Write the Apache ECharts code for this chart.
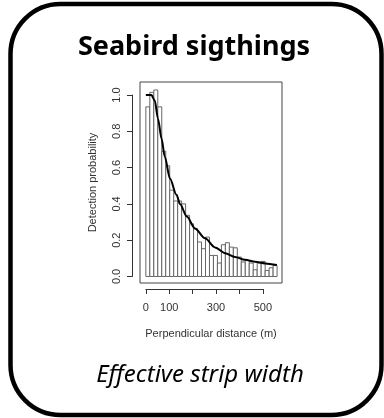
<!DOCTYPE html>
<html lang="en">
<head>
<meta charset="UTF-8">
<title>Seabird sigthings</title>
<style>
  html, body { margin: 0; padding: 0; background: #fff; }
  #chart { width: 384px; height: 418px; }
</style>
</head>
<body>
<div id="chart"></div>
<script src="https://cdn.jsdelivr.net/npm/echarts@6/dist/echarts.min.js"></script>
<script>
// histogram of detections (bins of 17 m from 0), heights
var binWidth = 17;
var binHeights = [0.935, 1.015, 1.028, 0.935, 0.69, 0.61, 0.476, 0.416, 0.416, 0.40,
                  0.337, 0.29, 0.263, 0.19, 0.153, 0.217, 0.116, 0.116, 0.074, 0.175,
                  0.186, 0.162, 0.158, 0.107, 0.08, 0.088, 0.074, 0.037, 0.074, 0.083,
                  0.033, 0.048, 0.06];
// fitted detection function
var curveX = [0, 24, 38, 52, 67, 81, 103, 131, 146, 175, 210, 253, 296, 339, 381, 424, 467, 510, 560];
var curveY = [1.0, 1.0, 0.97, 0.87, 0.76, 0.66, 0.54, 0.45, 0.40, 0.33, 0.265, 0.21, 0.16, 0.128, 0.108, 0.092, 0.081, 0.072, 0.063];
// tick labels (R drops 200 and 400 for lack of room)
var xTicks = [0, 100, 200, 300, 400, 500];
var xTickLabels = ['0', '100', '', '300', '', '500'];
var yTicks = [0, 0.2, 0.4, 0.6, 0.8, 1.0];
var yTickLabels = ['0.0', '0.2', '0.4', '0.6', '0.8', '1.0'];

// plot box
var L = 140, T = 82, W = 142, H = 201;
var xMin = -25, xMax = 582, yMin = -0.036, yMax = 1.072;
function px(x) { return L + (x - xMin) / (xMax - xMin) * W; }
function py(y) { return T + H - (y - yMin) / (yMax - yMin) * H; }

var labelFont = { color: '#333', fontFamily: 'Liberation Sans', fontSize: 11 };

var chart = echarts.init(document.getElementById('chart'));
chart.setOption({
    animation: false,
    grid: [
        { left: L, top: T, width: W, height: H, show: true, borderColor: '#444', borderWidth: 1 },
        { left: px(0), width: px(500) - px(0), top: T + H + 4, height: 2 },
        { left: L - 8, width: 2, top: py(1), height: py(0) - py(1) }
    ],
    xAxis: [
        {
            gridIndex: 0, type: 'value', min: xMin, max: xMax,
            axisLine: { show: false }, axisTick: { show: false }, axisLabel: { show: false },
            splitLine: { show: false },
            name: 'Perpendicular distance (m)', nameLocation: 'middle', nameGap: 45,
            nameTextStyle: labelFont
        },
        {
            gridIndex: 1, type: 'value', min: 0, max: 500, interval: 100,
            axisLine: { lineStyle: { color: '#333', width: 1 } },
            axisTick: { length: 5, lineStyle: { color: '#333' } },
            axisLabel: Object.assign({ margin: 13, formatter: function (v) {
                return xTickLabels[xTicks.indexOf(Math.round(v))] || '';
            } }, labelFont),
            splitLine: { show: false }
        },
        { gridIndex: 2, type: 'value', show: false, min: 0, max: 1 }
    ],
    yAxis: [
        {
            gridIndex: 0, type: 'value', min: yMin, max: yMax,
            axisLine: { show: false }, axisTick: { show: false }, axisLabel: { show: false },
            splitLine: { show: false },
            name: 'Detection probability', nameLocation: 'middle', nameGap: 42,
            nameTextStyle: labelFont
        },
        { gridIndex: 1, type: 'value', show: false, min: 0, max: 1 },
        {
            gridIndex: 2, type: 'value', min: 0, max: 1, interval: 0.2,
            axisLine: { show: true, lineStyle: { color: '#333', width: 1 } },
            axisTick: { show: true, length: 5, lineStyle: { color: '#333' } },
            axisLabel: Object.assign({ rotate: 90, margin: 10, formatter: function (v) {
                return yTickLabels[yTicks.indexOf(Math.round(v * 10) / 10)] || '';
            } }, labelFont),
            splitLine: { show: false }
        }
    ],
    series: [
        {
            type: 'custom',
            xAxisIndex: 0, yAxisIndex: 0,
            data: binHeights.map(function (h, i) { return [i * binWidth, (i + 1) * binWidth, h]; }),
            encode: { x: [0, 1], y: 2 },
            renderItem: function (params, api) {
                var p0 = api.coord([api.value(0), 0]);
                var p1 = api.coord([api.value(1), api.value(2)]);
                return {
                    type: 'rect',
                    shape: { x: p0[0], y: p1[1], width: p1[0] - p0[0], height: p0[1] - p1[1] },
                    style: { fill: '#fff', stroke: '#666', lineWidth: 1 }
                };
            }
        },
        {
            type: 'line',
            xAxisIndex: 0, yAxisIndex: 0,
            data: curveX.map(function (x, i) { return [x, curveY[i]]; }),
            showSymbol: false,
            smooth: 0.3,
            smoothMonotone: 'x',
            lineStyle: { color: '#000', width: 2 },
            z: 5
        }
    ],
    graphic: [
        {
            type: 'rect',
            shape: { x: 10.5, y: 4, width: 371, height: 411, r: 50 },
            style: { fill: 'none', stroke: '#000', lineWidth: 4.5 }
        },
        {
            type: 'text', x: 194, y: 47,
            style: { text: 'Seabird sigthings', font: 'bold 27px "Noto Sans"', fill: '#000',
                     textAlign: 'center', textVerticalAlign: 'middle' }
        },
        {
            type: 'text', x: 200, y: 375,
            style: { text: 'Effective strip width', font: 'italic 24px "Noto Sans"', fill: '#000',
                     textAlign: 'center', textVerticalAlign: 'middle' }
        }
    ]
});
</script>
</body>
</html>
